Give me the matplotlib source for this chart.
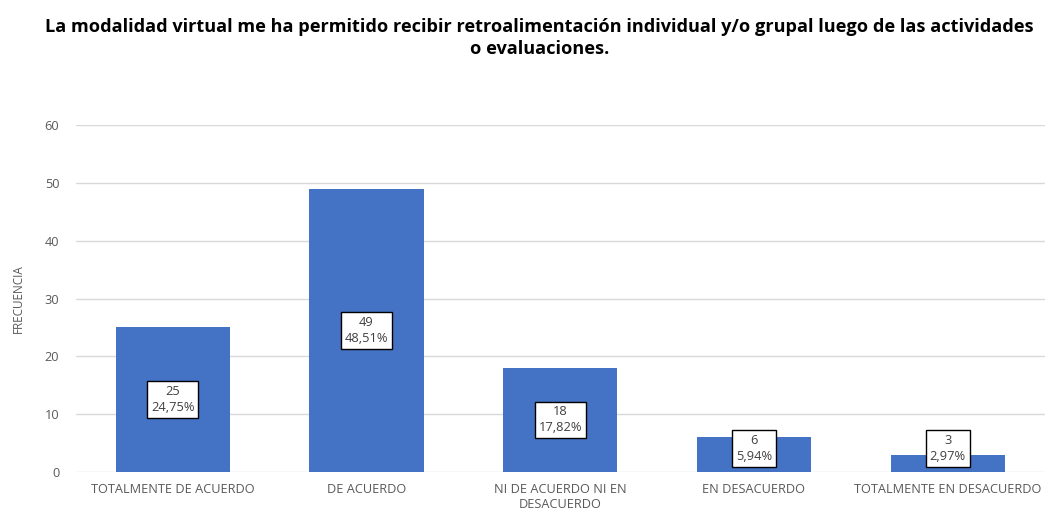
import matplotlib.pyplot as plt

categorias = ["TOTALMENTE DE ACUERDO", "DE ACUERDO", "NI DE ACUERDO NI EN\nDESACUERDO",
              "EN DESACUERDO", "TOTALMENTE EN DESACUERDO"]
frecuencia = [25, 49, 18, 6, 3]
porcentaje = ["24,75%", "48,51%", "17,82%", "5,94%", "2,97%"]

plt.rcParams['font.family'] = ['Open Sans', 'DejaVu Sans']

fig = plt.figure(figsize=(10.54, 5.15), dpi=100)
ax = fig.add_axes([0.072, 0.0835, 0.919, 0.6735])

x = range(len(categorias))
ax.bar(x, frecuencia, width=0.59, color="#4472C4", zorder=2)

for i, v in enumerate(frecuencia):
    ax.text(i, max(v / 2, 4.1), f"{v}\n{porcentaje[i]}", ha="center", va="center",
            fontsize=9.3, color="#404040", linespacing=1.3, zorder=3,
            bbox=dict(boxstyle="square,pad=0.3", fc="white", ec="black", lw=1))

ax.set_xlim(-0.5, len(categorias) - 0.5)
ax.set_ylim(0, 60)
ax.set_yticks(range(0, 61, 10))
ax.set_xticks(list(x))
ax.set_xticklabels(categorias)
ax.tick_params(axis="both", length=0, labelsize=9.2, labelcolor="#595959")
ax.tick_params(axis="y", pad=12)
ax.tick_params(axis="x", pad=8)
ax.grid(axis="y", color="#D9D9D9", lw=1, zorder=0)
for s in ax.spines.values():
    s.set_visible(False)
ax.set_ylabel("FRECUENCIA", fontsize=8.5, color="#595959", labelpad=14)

fig.text(0.512, 0.965, "La modalidad virtual me ha permitido recibir retroalimentación individual y/o grupal luego de las actividades\no evaluaciones.",
         ha="center", va="top", fontsize=13.1, fontweight="bold", color="black", linespacing=1.3)

fig.savefig("out.png", dpi=100)
